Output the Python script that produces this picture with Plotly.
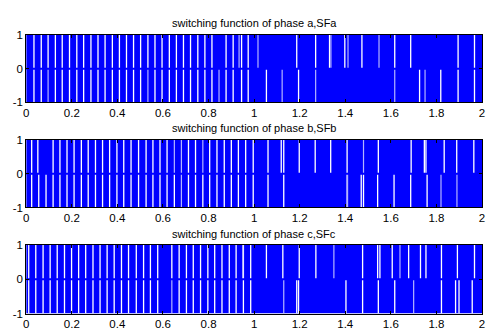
import plotly.graph_objects as go

# Time span of the simulation (s) and the switching levels
t_range = [0.0, 2.0]
levels = [-1, 0, 1]
x_ticks = [0, 0.2, 0.4, 0.6, 0.8, 1.0, 1.2, 1.4, 1.6, 1.8, 2.0]
x_tick_labels = ["0", "0.2", "0.4", "0.6", "0.8", "1", "1.2", "1.4", "1.6", "1.8", "2"]

titles = [
    "switching function of phase a,SFa",
    "switching function of phase b,SFb",
    "switching function of phase c,SFc",
]

# Instants where the switching function dwells (no transitions) in the
# upper (0..1) and lower (-1..0) bands; "faint" ones are very short dwells.
sfa_upper = [0.034, 0.066, 0.096, 0.128, 0.158, 0.190, 0.222, 0.252, 0.284, 0.315,
             0.346, 0.378, 0.409, 0.440, 0.471, 0.502, 0.534, 0.565, 0.596, 0.628,
             0.659, 0.690, 0.721, 0.753, 0.784, 0.815, 0.877, 0.908, 0.945, 0.974,
             1.187, 1.270, 1.331, 1.398, 1.473, 1.617, 1.687, 1.895, 1.967]
sfa_upper_faint = [0.934, 1.017, 1.337, 1.412, 1.548]
sfa_lower = [0.034, 0.066, 0.128, 0.158, 0.190, 0.222, 0.252, 0.284, 0.315, 0.346,
             0.378, 0.409, 0.440, 0.471, 0.502, 0.565, 0.596, 0.628, 0.659, 0.690,
             0.721, 0.753, 0.784, 0.815, 0.877, 0.908, 0.945, 0.974, 1.054, 1.195,
             1.726, 1.819, 1.895, 1.967]
sfa_lower_faint = [0.096, 0.534, 0.846, 1.123, 1.270, 1.617, 1.750]

sfb_upper = [0.024, 0.051, 0.118, 0.148, 0.179, 0.210, 0.242, 0.272, 0.304, 0.335,
             0.366, 0.398, 0.428, 0.460, 0.493, 0.526, 0.556, 0.587, 0.618, 0.712,
             0.743, 0.805, 0.837, 0.869, 0.900, 0.931, 0.963, 0.996, 1.061, 1.119,
             1.130, 1.198, 1.268, 1.336, 1.408, 1.545, 1.689, 1.747, 1.754, 1.834,
             1.889, 1.964]
sfb_upper_faint = [0.650, 0.681, 0.775, 1.480]
sfb_lower = [0.024, 0.055, 0.087, 0.118, 0.148, 0.179, 0.210, 0.242, 0.272, 0.304,
             0.335, 0.366, 0.398, 0.428, 0.460, 0.493, 0.526, 0.556, 0.587, 0.618,
             0.650, 0.712, 0.743, 0.775, 0.805, 0.837, 0.869, 0.900, 0.931, 0.963,
             0.996, 1.061, 1.130, 1.408, 1.470, 1.480, 1.542, 1.614, 1.687, 1.759]
sfb_lower_faint = [0.681, 1.410, 1.820, 1.890]

sfc_upper = [0.011, 0.042, 0.074, 0.105, 0.136, 0.168, 0.199, 0.230, 0.261, 0.293,
             0.324, 0.355, 0.386, 0.418, 0.449, 0.483, 0.515, 0.545, 0.577, 0.639,
             0.671, 0.703, 0.733, 0.765, 0.797, 0.827, 0.859, 0.891, 0.921, 0.953,
             0.985, 1.054, 1.126, 1.198, 1.271, 1.476, 1.542, 1.552, 1.606, 1.678,
             1.730, 1.754, 1.822, 1.892, 1.967]
sfc_upper_faint = [0.950, 1.350, 1.640]
sfc_lower = [0.011, 0.042, 0.074, 0.105, 0.136, 0.168, 0.199, 0.230, 0.261, 0.293,
             0.324, 0.355, 0.386, 0.418, 0.449, 0.483, 0.515, 0.545, 0.577, 0.671,
             0.703, 0.733, 0.765, 0.797, 0.827, 0.859, 0.891, 0.921, 0.953, 0.985,
             1.187, 1.195, 1.403, 1.476, 1.545, 1.617, 1.822, 1.884, 1.899, 1.957]
sfc_lower_faint = [0.639, 1.130, 1.700]

phases = [
    (sfa_upper, sfa_upper_faint, sfa_lower, sfa_lower_faint),
    (sfb_upper, sfb_upper_faint, sfb_lower, sfb_lower_faint),
    (sfc_upper, sfc_upper_faint, sfc_lower, sfc_lower_faint),
]

W, H = 487, 334
x_left, x_right = 23.5, 485.0
# (top, bottom) pixel rows of each axes box
boxes = [(30, 100), (139, 209), (248, 319)]

BLUE = "#0000ff"
FONT = "Liberation Sans, Arial, sans-serif"


def segments(xs, y0, y1):
    sx, sy = [], []
    for x in xs:
        sx += [x, x, None]
        sy += [y0, y1, None]
    return sx, sy


fig = go.Figure()
layout_axes = {}
annotations = []

for i, (up, up_f, lo, lo_f) in enumerate(phases):
    n = "" if i == 0 else str(i + 1)
    xa, ya = "x" + n, "y" + n
    span = t_range[1] - t_range[0]
    mid = (t_range[0] + t_range[1]) / 2

    # dense switching fills both bands
    fig.add_trace(go.Bar(x=[mid], y=[levels[2] - levels[0]], base=[levels[0]],
                         width=[span], marker=dict(color=BLUE, line=dict(width=0)),
                         xaxis=xa, yaxis=ya, showlegend=False, hoverinfo="skip"))

    # dwell intervals show as white gaps
    for xs, y0, y1, col, w in [
        (up, levels[1], levels[2], "#ffffff", 1.3),
        (up_f, levels[1], levels[2], "#b4b4ff", 1.2),
        (lo, levels[0], levels[1], "#ffffff", 1.3),
        (lo_f, levels[0], levels[1], "#b4b4ff", 1.2),
    ]:
        sx, sy = segments(xs, y0, y1)
        fig.add_trace(go.Scatter(x=sx, y=sy, mode="lines",
                                 line=dict(color=col, width=w),
                                 xaxis=xa, yaxis=ya, showlegend=False,
                                 hoverinfo="skip"))

    # zero level of the switching function
    fig.add_trace(go.Scatter(x=t_range, y=[levels[1], levels[1]], mode="lines",
                             line=dict(color=BLUE, width=2),
                             xaxis=xa, yaxis=ya, showlegend=False,
                             hoverinfo="skip"))

    top, bot = boxes[i]
    axis_common = dict(showline=True, linecolor="black", linewidth=1,
                       mirror="ticks", ticks="inside", ticklen=3,
                       tickcolor="black", tickwidth=1, showgrid=False,
                       zeroline=False,
                       tickfont=dict(family=FONT, size=11.5, color="black"))
    layout_axes["xaxis" + n] = dict(
        axis_common, domain=[x_left / W, x_right / W], range=t_range,
        tickvals=x_ticks, ticktext=x_tick_labels, anchor=ya,
        ticklabeloverflow="allow")
    layout_axes["yaxis" + n] = dict(
        axis_common, domain=[1 - bot / H, 1 - top / H], range=[levels[0], levels[2]],
        tickvals=levels, ticktext=[str(v) for v in levels], anchor=xa)

    annotations.append(dict(text=titles[i], x=(x_left + x_right) / 2 / W,
                            y=1 - (top - 12) / H, xref="paper", yref="paper",
                            xanchor="center", yanchor="middle", showarrow=False,
                            font=dict(family=FONT, size=11, color="black")))

fig.update_layout(
    width=W, height=H, margin=dict(l=0, r=0, t=0, b=0),
    paper_bgcolor="white", plot_bgcolor="white",
    barmode="overlay", annotations=annotations, **layout_axes,
)

fig.write_html("out.html")
